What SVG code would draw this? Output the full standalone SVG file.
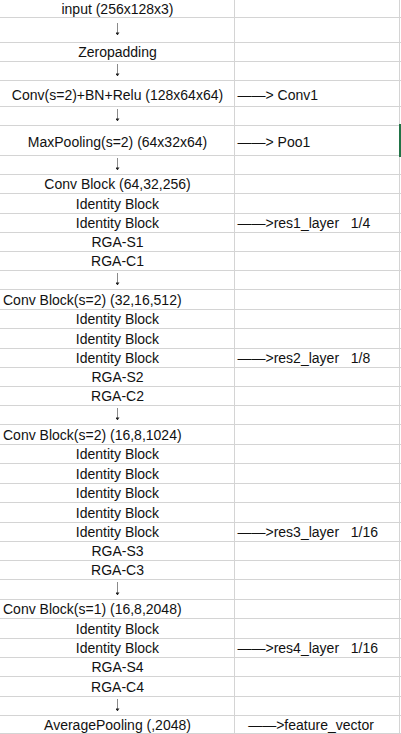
<svg xmlns="http://www.w3.org/2000/svg" width="401" height="734" viewBox="0 0 401 734">
<style>
  .grid { stroke: #d4d4d4; stroke-width: 1; fill: none; }
  text { font-family: "Liberation Sans", Arial, sans-serif; font-size: 14px; fill: #111; white-space: pre; }
  .c { text-anchor: middle; }
  .l { text-anchor: start; }
  .arr { stroke: #8a8a8a; stroke-width: 1; fill: none; marker-end: url(#ah); }
</style>
<defs>
  <marker id="ah" viewBox="0 0 3 4" refX="2.6" refY="2" markerWidth="3" markerHeight="4" markerUnits="userSpaceOnUse" orient="auto">
    <path d="M0,0 L3,2 L0,4 z" fill="#222"/>
  </marker>
</defs>
<rect x="0" y="0" width="401" height="734" fill="#ffffff"/>
<g id="grid">
  <path class="grid" d="M0,17.5H401 M0,42.5H401 M0,61.5H401 M0,80.5H401 M0,106.5H401 M0,125.5H401 M0,155.5H401 M0,174.5H401 M0,193.5H401 M0,213.5H401 M0,232.5H401 M0,251.5H401 M0,270.5H401 M0,289.5H401 M0,309.5H401 M0,328.5H401 M0,348.5H401 M0,367.5H401 M0,386.5H401 M0,405.5H401 M0,424.5H401 M0,444.5H401 M0,463.5H401 M0,483.5H401 M0,502.5H401 M0,522.5H401 M0,541.5H401 M0,560.5H401 M0,579.5H401 M0,599.5H401 M0,618.5H401 M0,638.5H401 M0,657.5H401 M0,676.5H401 M0,696.5H401 M0,715.5H401 M0,733.5H401"/>
  <path class="grid" d="M234.5,0V734 M399.5,0V734"/>
  <rect x="399" y="124" width="2" height="33" fill="#217346"/>
</g>
<g id="connectors">
  <line class="arr" x1="117.5" y1="23" x2="117.5" y2="35"/>
  <line class="arr" x1="117.5" y1="64" x2="117.5" y2="76"/>
  <line class="arr" x1="117.5" y1="109" x2="117.5" y2="121"/>
  <line class="arr" x1="117.5" y1="158" x2="117.5" y2="170"/>
  <line class="arr" x1="117.5" y1="273" x2="117.5" y2="285"/>
  <line class="arr" x1="117.5" y1="408" x2="117.5" y2="420"/>
  <line class="arr" x1="117.5" y1="582" x2="117.5" y2="595"/>
  <line class="arr" x1="117.5" y1="699" x2="117.5" y2="711"/>
</g>
<g id="n-input"><text class="c" x="117.5" y="14">input (256x128x3)</text></g>
<g id="n-zeropad"><text class="c" x="117.5" y="57">Zeropadding</text></g>
<g id="n-conv1"><text class="c" x="117.5" y="99.5">Conv(s=2)+BN+Relu (128x64x64)</text><text class="l" x="237.5" y="99.5">——&gt; Conv1</text></g>
<g id="n-maxpool"><text class="c" x="117.5" y="147">MaxPooling(s=2) (64x32x64)</text><text class="l" x="237.5" y="147">——&gt; Poo1</text></g>
<g id="n-res1">
  <text class="c" x="117.5" y="189">Conv Block (64,32,256)</text>
  <text class="c" x="117.5" y="209">Identity Block</text>
  <text class="c" x="117.5" y="228">Identity Block</text>
  <text class="l" x="237.5" y="228">——&gt;res1_layer   1/4</text>
  <text class="c" x="117.5" y="247">RGA-S1</text>
  <text class="c" x="117.5" y="266">RGA-C1</text>
</g>
<g id="n-res2">
  <text class="l" x="3" y="305">Conv Block(s=2) (32,16,512)</text>
  <text class="c" x="117.5" y="324">Identity Block</text>
  <text class="c" x="117.5" y="344">Identity Block</text>
  <text class="c" x="117.5" y="363">Identity Block</text>
  <text class="l" x="237.5" y="363">——&gt;res2_layer   1/8</text>
  <text class="c" x="117.5" y="382">RGA-S2</text>
  <text class="c" x="117.5" y="401">RGA-C2</text>
</g>
<g id="n-res3">
  <text class="l" x="3" y="440">Conv Block(s=2) (16,8,1024)</text>
  <text class="c" x="117.5" y="459">Identity Block</text>
  <text class="c" x="117.5" y="479">Identity Block</text>
  <text class="c" x="117.5" y="498">Identity Block</text>
  <text class="c" x="117.5" y="518">Identity Block</text>
  <text class="c" x="117.5" y="537">Identity Block</text>
  <text class="l" x="237.5" y="537">——&gt;res3_layer   1/16</text>
  <text class="c" x="117.5" y="556">RGA-S3</text>
  <text class="c" x="117.5" y="575">RGA-C3</text>
</g>
<g id="n-res4">
  <text class="l" x="3" y="614">Conv Block(s=1) (16,8,2048)</text>
  <text class="c" x="117.5" y="634">Identity Block</text>
  <text class="c" x="117.5" y="653">Identity Block</text>
  <text class="l" x="237.5" y="653">——&gt;res4_layer   1/16</text>
  <text class="c" x="117.5" y="672">RGA-S4</text>
  <text class="c" x="117.5" y="692">RGA-C4</text>
</g>
<g id="n-avgpool">
  <text class="c" x="117.5" y="730">AveragePooling (,2048)</text>
  <text class="c" x="311" y="730">——&gt;feature_vector</text>
</g>
</svg>
